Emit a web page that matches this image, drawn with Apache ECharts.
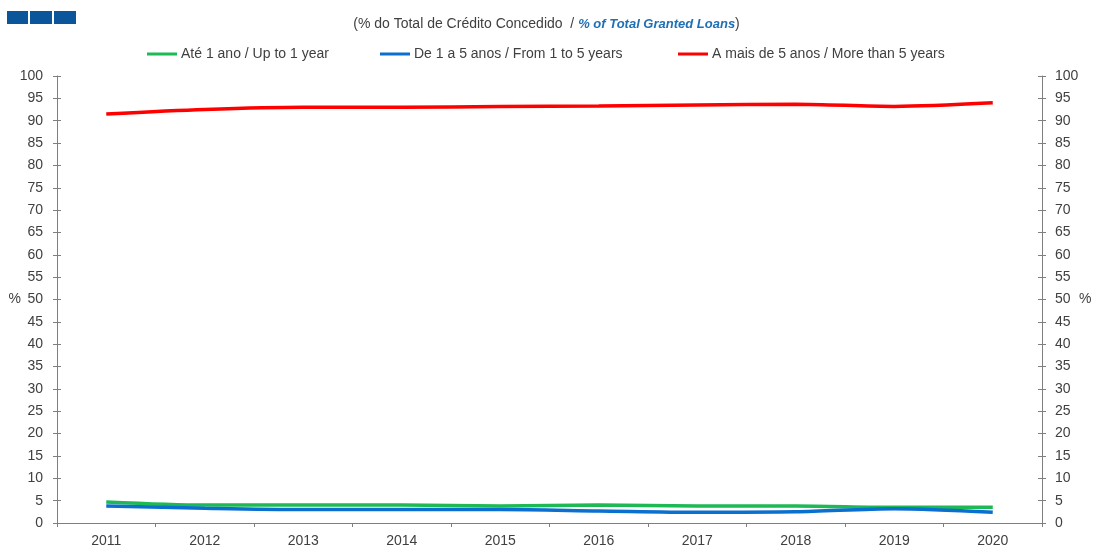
<!DOCTYPE html>
<html>
<head>
<meta charset="utf-8">
<script src="https://cdn.jsdelivr.net/npm/echarts@6/dist/echarts.min.js"></script>
<style>
  html, body { margin: 0; padding: 0; background: #fff; }
  #main { width: 1093px; height: 547px; }
</style>
</head>
<body>
<div id="main"></div>
<script>
const years = ["2011", "2012", "2013", "2014", "2015", "2016", "2017", "2018", "2019", "2020"];
const upTo1 = [4.7, 4.0, 4.0, 4.0, 3.8, 4.0, 3.8, 3.8, 3.5, 3.5];
const from1to5 = [3.8, 3.3, 3.0, 3.0, 3.0, 2.7, 2.4, 2.5, 3.2, 2.4];
const moreThan5 = [91.5, 92.5, 93.0, 93.0, 93.2, 93.3, 93.5, 93.7, 93.2, 94.0];

const names = [
  "Até 1 ano / Up to 1 year",
  "De 1 a 5 anos / From 1 to 5 years",
  "A mais de 5 anos / More than 5 years",
];
const colors = ["#1db954", "#0a6fce", "#ff0000"];
const legendLeft = [147, 380, 678];

const axisColor = "#7f7f7f";
const textColor = "#404040";
const font = "Liberation Sans, Arial, sans-serif";

let chart = echarts.init(document.getElementById("main"));

// axis with labels and outward ticks
const yAxisMain = (pos) => ({
  type: "value",
  position: pos,
  min: 0,
  max: 100,
  interval: 5,
  name: "%",
  nameLocation: "middle",
  nameRotate: 0,
  nameMoveOverlap: false,
  nameGap: pos === "left" ? 36 : 37,
  nameTextStyle: { color: textColor, fontSize: 14, fontFamily: font },
  axisLine: { show: true, lineStyle: { color: axisColor, width: 1 } },
  axisTick: { show: true, length: 4, lineStyle: { color: axisColor } },
  axisLabel: {
    color: textColor,
    fontSize: 14,
    fontFamily: font,
    margin: pos === "left" ? 14 : 13,
  },
  splitLine: { show: false },
});

// extra axis only for the inside half of the ticks
const yAxisInner = (pos) => ({
  type: "value",
  position: pos,
  min: 0,
  max: 100,
  interval: 5,
  axisLine: { show: false },
  axisTick: { show: true, inside: true, length: 4, lineStyle: { color: axisColor } },
  axisLabel: { show: false },
  splitLine: { show: false },
});

chart.setOption({
  animation: false,
  title: {
    left: "center",
    top: 12,
    text: "{a|(% do Total de Crédito Concedido  / }{b|% of Total Granted Loans}{a|)}",
    textStyle: {
      rich: {
        a: { color: textColor, fontSize: 14, fontFamily: font, fontWeight: "normal" },
        b: { color: "#1f6fb5", fontSize: 13, fontFamily: font, fontWeight: "bold", fontStyle: "italic" },
      },
    },
  },
  graphic: [
    { type: "rect", shape: { x: 7, y: 11, width: 21, height: 13 }, style: { fill: "#0b559b" } },
    { type: "rect", shape: { x: 30, y: 11, width: 22, height: 13 }, style: { fill: "#0b559b" } },
    { type: "rect", shape: { x: 54, y: 11, width: 22, height: 13 }, style: { fill: "#0b559b" } },
  ],
  legend: names.map((n, i) => ({
    top: 47,
    left: legendLeft[i],
    padding: 0,
    icon: "rect",
    itemWidth: 30,
    itemHeight: 3,
    itemGap: 0,
    textStyle: { color: textColor, fontSize: 14, fontFamily: font, padding: [0, 0, 0, -1] },
    data: [n],
  })),
  grid: { left: 57, right: 51, top: 76, bottom: 24, outerBoundsMode: "none" },
  xAxis: {
    type: "category",
    data: years,
    boundaryGap: true,
    axisLine: { lineStyle: { color: axisColor, width: 1 } },
    axisTick: { show: true, length: 4, lineStyle: { color: axisColor } },
    axisLabel: { color: textColor, fontSize: 14, fontFamily: font, margin: 11 },
  },
  yAxis: [yAxisMain("left"), yAxisMain("right"), yAxisInner("left"), yAxisInner("right")],
  series: [
    { name: names[0], data: upTo1 },
    { name: names[1], data: from1to5 },
    { name: names[2], data: moreThan5 },
  ].map((s, i) => ({
    name: s.name,
    type: "line",
    data: s.data,
    smooth: 0.3,
    symbol: "none",
    lineStyle: { color: colors[i], width: 3.5 },
    itemStyle: { color: colors[i] },
  })),
});
</script>
</body>
</html>
